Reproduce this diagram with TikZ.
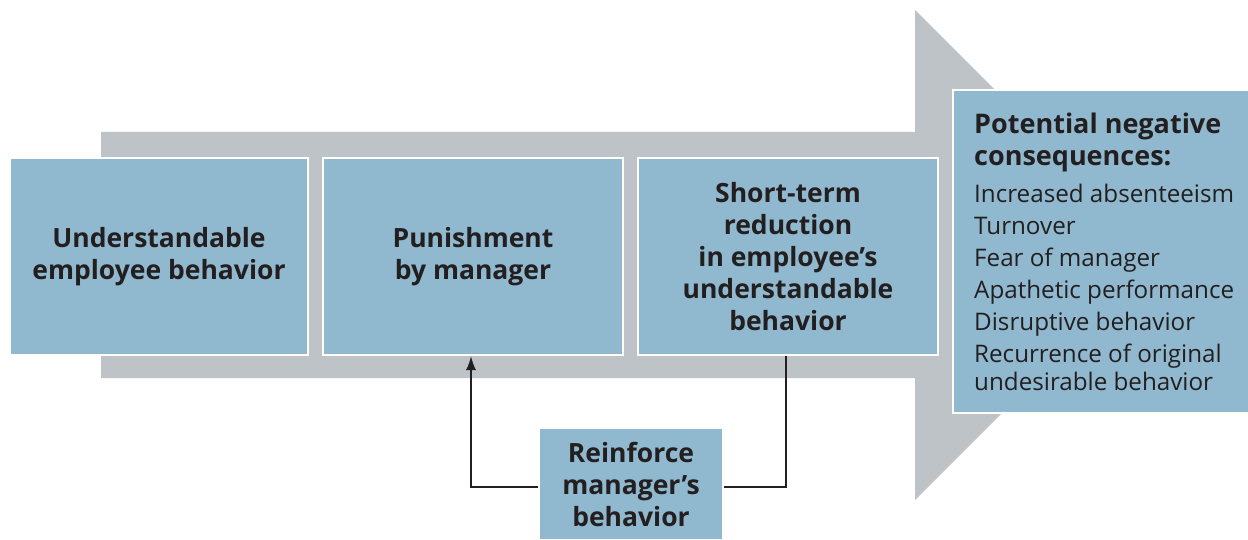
\documentclass[tikz,border=0pt]{standalone}
\usepackage{fontspec}
\setmainfont{Open Sans}
\usetikzlibrary{arrows.meta}
\definecolor{boxblue}{HTML}{90B8CE}
\definecolor{arrowgray}{HTML}{BDC3C7}
\definecolor{ink}{HTML}{231F20}
\tikzset{
  box/.style={draw=white, line width=2pt, fill=boxblue, inner sep=0pt, align=center,
    text=ink, font=\fontsize{26.5}{32}\selectfont\bfseries},
  link/.style={draw=ink, line width=1.8pt},
}
\begin{document}
\begin{tikzpicture}[x=1pt,y=-1pt]
\clip (0,0) rectangle (1248,540);
% big gray arrow
\fill[arrowgray] (101,132) -- (915,132) -- (915,10) -- (1160,255) -- (915,500) -- (915,378) -- (101,378) -- cycle;
% boxes
\node[box, minimum width=298pt, minimum height=197pt] (b1) at (159,256.5)
  {Understandable\\employee behavior};
\node[box, minimum width=300pt, minimum height=197pt] (b2) at (473,256.5)
  {Punishment\\by manager};
\node[box, minimum width=300pt, minimum height=197pt] (b3) at (788,256.5)
  {Short-term\\reduction\\in employee’s\\understandable\\behavior};
\node[box, minimum width=320pt, minimum height=323pt] (b4) at (1113,251.5) {};
\node[anchor=north west, align=left, text=ink, inner sep=0pt,
  font=\fontsize{24.2}{32}\selectfont] (t4) at (974,113)
  {{\fontsize{27}{32}\selectfont\bfseries Potential negative}\\{\fontsize{27}{32}\selectfont\bfseries consequences:}\\[5pt]
   Increased absenteeism\\Turnover\\Fear of manager\\Apathetic performance\\
   Disruptive behavior\\Recurrence of original\\[-4pt]undesirable behavior};
\node[box, minimum width=184pt, minimum height=112pt] (r) at (631,484)
  {Reinforce\\manager’s\\behavior};
% connectors
\coordinate (c1) at (786,487);
\coordinate (c2) at (471,487);
\draw[link] (b3.south -| c1) -- (c1) -- (r.east |- c1);
\draw[link, -{Latex[length=14pt,width=10pt]}] (r.west |- c2) -- (c2) -- (b2.south -| c2);
\end{tikzpicture}
\end{document}
